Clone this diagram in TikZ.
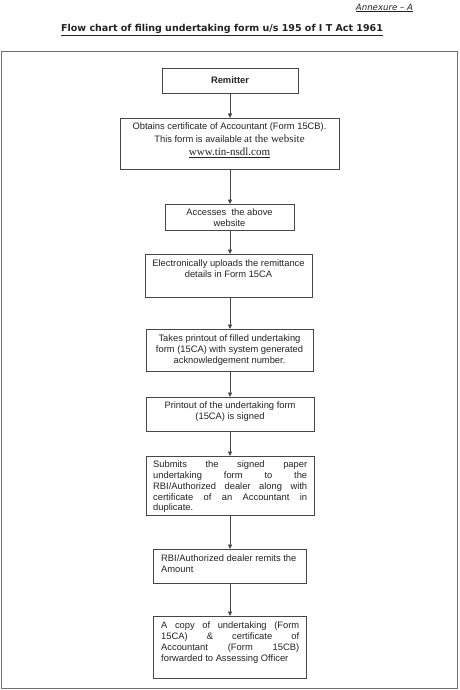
\documentclass[tikz,border=0pt]{standalone}
\usepackage{fontspec}
\setmainfont{Liberation Sans}
\newfontfamily\tnr{Liberation Serif}
\newfontfamily\verd{DejaVu Sans}
\usetikzlibrary{arrows.meta}
\definecolor{boxcol}{RGB}{70,70,70}
\definecolor{framecol}{RGB}{110,110,110}
\definecolor{txtcol}{RGB}{35,35,35}
\begin{document}
\begin{tikzpicture}[x=1pt,y=-1pt,
  box/.style={draw=boxcol, line width=0.8pt, inner sep=0pt, outer sep=0pt},
  txt/.style={inner sep=0pt, font=\fontsize{9.35}{11}\selectfont, text=txtcol},
  arr/.style={draw=boxcol, line width=0.8pt, -{Triangle[length=4.5pt,width=4pt]}}]
\useasboundingbox (0,0) rectangle (459,690);
\fill[white] (0,0) rectangle (459,690);
% header
\node[inner sep=0pt, text=txtcol, font=\verd\itshape\fontsize{8.6}{10}\selectfont] (annex) at (384.5,8) {\underline{Annexure – A}};
\node[inner sep=0pt, text=txtcol, font=\verd\bfseries\fontsize{9.5}{11}\selectfont] (title) at (222,30) {\underline{Flow chart of filing undertaking form u/s 195 of I T Act 1961}};
% frame
\draw[framecol, line width=0.9pt] (1,51) rectangle (457,688);
% boxes
\node[box, minimum width=136pt, minimum height=25pt] (b1) at (230,80.5) {};
\node[box, minimum width=219pt, minimum height=51pt] (b2) at (229.5,143.5) {};
\node[box, minimum width=129pt, minimum height=26pt] (b3) at (229.5,217) {};
\node[box, minimum width=167pt, minimum height=43pt] (b4) at (228.5,275.5) {};
\node[box, minimum width=167pt, minimum height=42pt] (b5) at (229.5,350) {};
\node[box, minimum width=168pt, minimum height=34pt] (b6) at (230,414) {};
\node[box, minimum width=168pt, minimum height=59pt] (b7) at (230,485.5) {};
\node[box, minimum width=153pt, minimum height=34pt] (b8) at (229.5,566) {};
\node[box, minimum width=153pt, minimum height=62pt] (b9) at (229.5,647) {};
% texts
\node[txt, font=\bfseries\fontsize{9.35}{11}\selectfont] (t1) at (b1) {Remitter};
\node[txt, anchor=north, align=center, font=\fontsize{9.35}{12.6}\selectfont] (t2) at ([yshift=-5pt]b2.north)
  {Obtains certificate of Accountant (Form 15CB).\\
   This form is available\hspace{2pt}{\tnr\fontsize{11}{12}\selectfont at the website}\\
   {\tnr\fontsize{11}{12}\selectfont\underline{www.tin-nsdl.com}}};
\node[txt, anchor=north, align=center] (t3) at ([yshift=-4.5pt]b3.north)
  {Accesses\ \ the above\\website};
\node[txt, anchor=north, align=center] (t4) at ([yshift=-6pt]b4.north)
  {Electronically uploads the remittance\\details in Form 15CA};
\node[txt, anchor=north, align=center] (t5) at ([yshift=-5.5pt]b5.north)
  {Takes printout of filled undertaking\\form (15CA) with system generated\\acknowledgement number.};
\node[txt, anchor=north, align=center] (t6) at ([yshift=-5pt]b6.north)
  {Printout of the undertaking form\\(15CA) is signed};
\node[txt, anchor=north west, align=left, font=\fontsize{9.35}{10.7}\selectfont] (t7) at ([xshift=7pt,yshift=-5pt]b7.north west)
  {\hbox to 154pt{Submits\hfill the\hfill signed\hfill paper}\\
   \hbox to 154pt{undertaking\hfill form\hfill to\hfill the}\\
   \hbox to 154pt{RBI/Authorized\hfill dealer\hfill along\hfill with}\\
   \hbox to 154pt{certificate\hfill of\hfill an\hfill Accountant\hfill in}\\
   duplicate.};
\node[txt, anchor=north west, align=left] (t8) at ([xshift=8pt,yshift=-6pt]b8.north west)
  {RBI/Authorized dealer remits the\\Amount};
\node[txt, anchor=north west, align=left] (t9) at ([xshift=8pt,yshift=-6pt]b9.north west)
  {\hbox to 138pt{A\hfill copy\hfill of\hfill undertaking\hfill (Form}\\
   \hbox to 138pt{15CA)\hfill \&\hfill certificate\hfill of}\\
   \hbox to 138pt{Accountant\hfill (Form\hfill 15CB)}\\
   forwarded to Assessing Officer};
% connectors
\foreach \a/\b in {b1/b2,b2/b3,b3/b4,b4/b5,b5/b6,b6/b7,b7/b8,b8/b9}
  \draw[arr] (\a.south -| b1.south) -- (\b.north -| b1.south);
\end{tikzpicture}
\end{document}
